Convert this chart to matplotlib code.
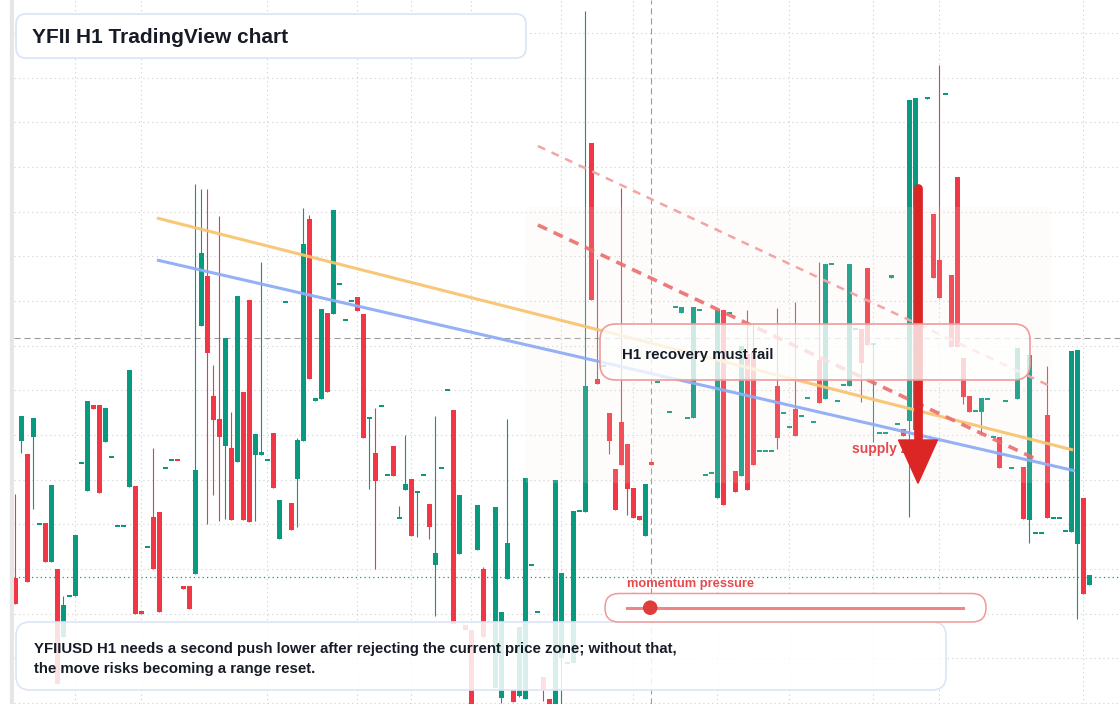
import numpy as np
import matplotlib
matplotlib.use("Agg")
import matplotlib.pyplot as plt
import matplotlib.transforms as mtransforms
from matplotlib.patches import FancyBboxPatch, Rectangle, Circle, Polygon
from matplotlib.lines import Line2D

nan = np.nan

# ---------------- data (H1 candles, price units) ----------------
open_ = [
    126.4, 263.2, 250.1, 267.4, 180.5, 180.9, 142.3, 135, 67, 107.7,
    108, 240.6, 213, 298.9, 298.9, 262.1, 246.6, 177.7, 177.7, 217.3,
    218, 93, 157.5, 186.9, 191.8, 235.6, 244.5, 244.5, 117.6, 117.6,
    130, 378.4, 427.9, 308.1, 285.1, 257.9, 256.1, 242, 312, 403.8,
    249.4, 249.4, 243.8, 271, 165.3, 401.7, 201, 225.4, 263.2, 485.1,
    303.5, 305.2, 391.1, 390.4, 419.7, 383.7, 403.5, 407, 390, 286.5,
    250.8, 297.8, 228.9, 257.9, 185.8, 214.4, 225, 211.6, 228.6, 200,
    139.5, 235.6, 313.7, 294, 150.5, 79.5, 74, 154.4, 135, nan,
    16, 5.7, 125.4, 14, 8.3, 4.7, 139, 92, 27.3, 5,
    -11, 45.7, 40.7, 40.7, 193, 192.1, 561.2, 324.6, 338, 290.9,
    234.8, 281.9, 259.9, 215.9, 187.6, 168.3, 242.4, 322.3, 326.7, 291.8,
    396.9, 391.5, 286.4, 286.4, 393.7, 228.9, 231.2, 205.6, 394.2, 390.7,
    232.8, 228.2, 350.1, 351.9, 252.6, 252.6, 252.6, 318.3, 290.7, 276.6,
    295.3, 287.6, 305.6, 281.6, 344.1, 304.9, 439.9, 303.5, 319, 318.3,
    374.8, 374.8, 436, 360, 270.6, 270.6, 426.1, 280.1, 274.8, 283.3,
    274, nan, 605.3, 490.2, 444.4, 609.8, 429.4, 527.3, 346.5, 308.2,
    293.2, 292.3, 305.2, 266.9, 267.3, 303.2, 236.1, 304.8, 236.5, 184,
    171.5, 171.5, 289.4, 186.5, 186.5, 173.2, 171.9, 159.8, 206.5, 118.6,
]
close = [
    100, 288, 122.2, 285.8, 180.5, 142.3, 219, 20.4, 99, 107.7,
    168.8, 240.6, 303.1, 295, 211.2, 296, 246.6, 177.7, 177.7, 333.9,
    90.4, 90.4, 157.5, 135, 92.2, 235.6, 244.5, 244.3, 115.1, 95.3,
    234, 450.8, 350.8, 284.4, 267.3, 365.7, 184.4, 408, 184.4, 182.3,
    270, 252, 243.8, 216.2, 203.8, 401.7, 174.1, 263.9, 460, 325.4,
    306, 395, 312.3, 494, 419.7, 383.7, 403.5, 393.2, 266.4, 286.5,
    223.3, 297.8, 228.9, 228.2, 185.8, 220.1, 168.1, 211.6, 228.6, 177.3,
    150.8, 235.6, 313.7, 80, 209.1, 74.1, -16, 198.9, 67.3, nan,
    197.1, 92, 161.1, 2.3, 77, 226.1, 139, 92, 15, -11,
    224, 131, 40.7, 193, 193, 317.8, 404.5, 319.6, 338, 263,
    194.3, 239.3, 214.6, 186.3, 184.5, 220, 239.3, 322.3, 326.7, 291.8,
    396.9, 396.9, 286.4, 396.9, 393.7, 228.9, 231.2, 394.2, 198.8, 390.7,
    212.3, 357.9, 214.1, 238.8, 252.6, 252.6, 252.6, 266, 290.7, 276.6,
    268.5, 287.6, 305.6, 281.6, 301.3, 439.9, 439.9, 303.5, 319, 439.9,
    374.8, 341.3, 359, 360, 270.6, 270.6, 428.9, 280.1, 268.1, 603.8,
    606, nan, 607.3, 426.1, 406.1, 609.8, 356.9, 356.9, 307.3, 292.3,
    293.2, 306.5, 305.2, 266.9, 235.7, 303.2, 236.1, 356.5, 185.2, 349.4,
    171.5, 171.5, 186.1, 186.5, 186.5, 173.2, 352.7, 354.4, 109.8, 128.6,
]
high = [
    210.2, 288, 250.1, 285.8, 180.5, 180.9, 219, 135, 107.7, 107.7,
    168.8, 240.6, 303.1, 298.9, 298.9, 296, 246.6, 177.7, 177.7, 333.9,
    218, 93, 157.5, 256.1, 191.8, 235.6, 244.5, 244.5, 117.6, 117.6,
    519.7, 515.1, 515.1, 339.2, 487.9, 365.7, 291.8, 408, 312, 403.8,
    270, 441.6, 243.8, 271, 203.8, 401.7, 201, 266, 496, 488.6,
    306, 395, 391.1, 494, 419.7, 383.7, 403.5, 407, 390, 286.5,
    296, 297.8, 228.9, 257.9, 197.8, 269.2, 225, 211.6, 228.6, 200,
    287.9, 235.6, 313.7, 294, 209.1, 79.5, 74, 198.9, 136.7, nan,
    197.1, 92, 285.4, 14, 77, 226.1, 139, 92, 27.3, 5,
    224, 131, 40.7, 193, 193, 693.2, 561.2, 444.9, 338, 290.9,
    234.8, 515.9, 259.9, 215.9, 187.6, 220, 242.4, 322.3, 326.7, 291.8,
    396.9, 396.9, 286.4, 396.9, 393.7, 228.9, 231.2, 394.2, 394.2, 390.7,
    232.8, 357.9, 393.6, 380, 252.6, 252.6, 252.6, 396, 290.7, 276.6,
    402, 287.6, 305.6, 281.6, 442, 439.9, 439.9, 303.5, 319, 439.9,
    374.8, 374.8, 436, 360, 270.6, 270.6, 428.9, 280.1, 274.8, 603.8,
    606, nan, 607.3, 490.2, 638.6, 609.8, 429.4, 527.3, 346.5, 308.2,
    293.2, 306.5, 305.2, 266.9, 267.3, 303.2, 236.1, 356.5, 236.5, 349.4,
    171.5, 171.5, 338.2, 186.5, 186.5, 173.2, 352.7, 354.4, 206.5, 128.6,
]
low = [
    100, 250.8, 122.2, 195.3, 180.5, 142.3, 142.3, 20.4, 67, 107.7,
    108, 240.6, 213, 295, 211.2, 262.1, 246.6, 177.7, 177.7, 217.3,
    90.4, 90.4, 157.5, 135, 92.2, 235.6, 244.5, 244.3, 115.1, 95.3,
    130, 378.4, 180.1, 209.5, 183.3, 185.5, 184.4, 242, 184.4, 182.3,
    183.3, 249.4, 243.8, 216.2, 165.3, 401.7, 174.1, 177.3, 263.2, 325.4,
    303.5, 305.2, 312.3, 390.4, 419.7, 383.7, 403.5, 393.2, 266.4, 215.5,
    135.3, 297.8, 228.9, 228.2, 185.8, 214.4, 168.1, 167.4, 228.6, 165.3,
    87.6, 235.6, 313.7, 80, 150.5, 74.1, -16, 154.4, 67.3, nan,
    16, 1.3, 125.4, 2.3, 7, 4.7, 139, 92, 3.3, -11,
    -11, -11, 40.7, 40.7, 193, 192.1, 404.5, 319.6, 338, 249.6,
    194.3, 239.3, 189.4, 186.3, 184.5, 168.3, 239.3, 322.3, 326.7, 291.8,
    396.9, 391.5, 286.4, 286.4, 393.7, 228.9, 231.2, 205.6, 198.8, 390.7,
    212.3, 228.2, 214.1, 238.8, 252.6, 252.6, 252.6, 255.4, 290.7, 276.6,
    268.5, 287.6, 305.6, 281.6, 301.3, 304.9, 439.9, 303.5, 319, 318.3,
    374.8, 302.4, 359, 262.5, 270.6, 270.6, 426.1, 280.1, 268.1, 186.7,
    274, nan, 605.3, 426.1, 406.1, 609.8, 356.9, 356.9, 299.8, 292.3,
    293.2, 268.6, 305.2, 266.9, 235.7, 303.2, 236.1, 304.8, 185.2, 161.1,
    171.5, 171.5, 186.1, 186.5, 186.5, 173.2, 171.9, 84.8, 109.8, 118.6,
]

# session grid (candle index) and price grid
time_grid = [10, 21, 42, 57, 66, 76, 91, 103, 117, 129, 143, 154, 178]
price_grid_start, price_grid_step = 1.0, 44.67
crosshair_bar, crosshair_price = 106, 366
last_price = 127.5

# drawings (candle index, price)
orange_x, orange_y = [23.6, 176.3], [486, 254]
blue_x, blue_y = [23.6, 176.6], [444, 233.2]
dash_x, dash_y = [87.1, 170.8], [479, 243]
dash2_x, dash2_y = [87.1, 172.8], [558, 317]
zone_x, zone_y = [85.1, 172.8], [221, 497.5]
arrow_x, arrow_top, arrow_base, arrow_tip = 150.45, 516.3, 264, 220.7

title = "YFII H1 TradingView chart"
note_lines = ["YFIIUSD H1 needs a second push lower after rejecting the current price zone; without that,",
              "the move risks becoming a range reset."]
callout = "H1 recovery must fail"
meter_label = "momentum pressure"
zone_label = "supply zone"
meter_value = 0.07

GREEN = "#089981"
RED = "#f23645"
FONT = ["Liberation Sans", "DejaVu Sans"]
TXT = "#161b26"

W, H = 1120, 704
fig = plt.figure(figsize=(W / 100, H / 100), dpi=100)
fig.patch.set_facecolor("white")
ax = fig.add_axes([14 / W, 0, (W - 14) / W, 1])
ax.set_xlim(-0.217, 184.12)
ax.set_ylim(0, 704)
ax.set_facecolor("white")
for s in ax.spines.values():
    s.set_visible(False)

ax.set_xticks(time_grid)
ax.set_yticks(np.arange(price_grid_start, 704, price_grid_step))
ax.tick_params(length=0, labelbottom=False, labelleft=False)
ax.grid(True, color="#cfcfcf", linestyle=(0, (1, 3)), linewidth=0.8)
ax.set_axisbelow(True)

# left strip
fig.add_artist(Rectangle((10 / W, 0), 4 / W, 1, transform=fig.transFigure,
                         color="#e6e6e6", zorder=0))

# crosshair and last price line
ax.axhline(crosshair_price, color="#9b9b9b", lw=0.8, dashes=[5.5, 3.5], zorder=1)
ax.axvline(crosshair_bar, color="#9b9b9b", lw=0.8, dashes=[5.5, 3.5], zorder=1)
ax.axhline(last_price, color=GREEN, lw=0.9, linestyle=(0, (1, 2.5)), zorder=1)

# candles
o = np.array(open_, float); c = np.array(close, float)
h = np.array(high, float); l = np.array(low, float)
x = np.arange(len(o))
ok = ~np.isnan(o)
up = (c >= o) & ok
dn = (c < o) & ok
body_lo = np.minimum(o, c)
body_h = np.abs(c - o)
mid = (o + c) / 2
small = body_h < 2
bottom = np.where(small, mid - 1, body_lo)
height = np.where(small, 2, body_h)
for mask, col in ((up, GREEN), (dn, RED)):
    ax.vlines(x[mask], l[mask], h[mask], color=col, lw=0.8, zorder=2)
    ax.bar(x[mask], height[mask], bottom=bottom[mask], width=0.78,
           color=col, linewidth=0, zorder=3)

# zone overlay
ax.add_patch(Rectangle((zone_x[0], zone_y[0]), zone_x[1] - zone_x[0], zone_y[1] - zone_y[0],
                       facecolor="#f5ebe1", alpha=0.14, linewidth=0, zorder=4))

# trend lines
ax.plot(orange_x, orange_y, color="#f8c471", lw=2.2, alpha=0.95, zorder=5, solid_capstyle="butt")
ax.plot(blue_x, blue_y, color="#8fadf5", lw=2.2, alpha=0.95, zorder=5, solid_capstyle="butt")
ax.plot(dash2_x, dash2_y, color="#f3a5a5", lw=1.8, dashes=[3.2, 2.8], zorder=5)
ax.plot(dash_x, dash_y, color="#ec6d6d", lw=2.6, dashes=[2.8, 2.0], zorder=5, alpha=0.9)

# pixel transform for annotation boxes (y downward)
tpx = mtransforms.Affine2D().scale(1 / W, -1 / H).translate(0, 1) + fig.transFigure

ax.text(851.7, 453, zone_label, transform=tpx, fontsize=10, fontweight="bold",
        color="#e5484d", family=FONT, va="baseline", zorder=6, clip_on=False)

# arrow
ax.plot([arrow_x, arrow_x], [arrow_top, arrow_base], color="#dc2626", lw=6.3,
        solid_capstyle="round", zorder=7)
ax.add_patch(Polygon([(arrow_x - 3.25, arrow_base), (arrow_x + 3.25, arrow_base),
                      (arrow_x, arrow_tip)], closed=True, color="#dc2626", zorder=7))

def box(x0, y0, w, h, r, fc, ec, lw, z):
    p = FancyBboxPatch((x0, y0), w, h, boxstyle=f"round,pad=0,rounding_size={r}",
                       facecolor=fc, edgecolor=ec, linewidth=lw, transform=tpx,
                       zorder=z, clip_on=False)
    ax.add_patch(p)

# callout box
box(600, 324, 430, 56, 16, (1, 1, 1, 0.78), "#ee9b9b", 1.2, 8)
ax.text(622, 359.3, callout, transform=tpx, fontsize=10.8, fontweight="bold",
        color=TXT, family=FONT, va="baseline", zorder=8.5, clip_on=False)

# bottom note box
box(16, 622, 930, 68, 14, (1, 1, 1, 0.85), "#dbe5f6", 1.2, 9)
ax.text(34, 653.5, note_lines[0], transform=tpx, fontsize=10.85, fontweight="bold",
        color=TXT, family=FONT, va="baseline", zorder=9.5, clip_on=False)
ax.text(34, 673, note_lines[1], transform=tpx, fontsize=10.85, fontweight="bold",
        color=TXT, family=FONT, va="baseline", zorder=9.5, clip_on=False)

# momentum meter
ax.text(627, 586.7, meter_label, transform=tpx, fontsize=9.3, fontweight="bold",
        color="#e5484d", family=FONT, va="baseline", zorder=10, clip_on=False)
box(605, 593.5, 381, 28.5, 14, "white", "#ef9a9a", 1.1, 10)
tx0, tx1, ty = 626.7, 962.7, 607.7
ax.add_line(Line2D([tx0, tx1], [ty, ty], transform=tpx, color="#ef8585", lw=2.2,
                   zorder=10.5, clip_on=False))
ax.add_patch(Circle((tx0 + meter_value * (tx1 - tx0), ty), 7.3, transform=tpx,
                    facecolor="#e03c3c", edgecolor="none", zorder=11, clip_on=False))

# title box
box(16, 14, 510, 44, 10, "white", "#d9e4f5", 1.2, 12)
ax.text(32, 43.3, title, transform=tpx, fontsize=15, fontweight="bold",
        color=TXT, family=FONT, va="baseline", zorder=12.5, clip_on=False)

fig.savefig("out.png", dpi=100, facecolor="white")
